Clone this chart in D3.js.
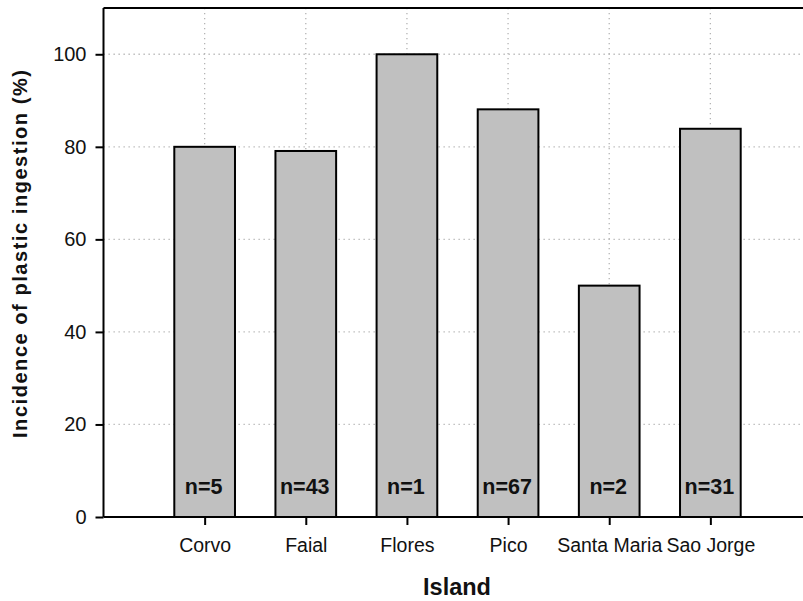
<!DOCTYPE html>
<html>
<head>
<meta charset="utf-8">
<script src="https://cdn.jsdelivr.net/npm/d3@7"></script>
<style>
  html, body { margin: 0; padding: 0; background: #fff; }
  svg { display: block; }
  text { font-family: "Liberation Sans", Arial, sans-serif; }
</style>
</head>
<body>
<svg id="chart" width="803" height="601"></svg>
<script>
const islands = ["Corvo", "Faial", "Flores", "Pico", "Santa Maria", "Sao Jorge"];
const incidence = [80, 79.1, 100, 88.1, 50, 83.9];
const sampleSizes = ["n=5", "n=43", "n=1", "n=67", "n=2", "n=31"];
const yTicks = [0, 20, 40, 60, 80, 100];
const yTitle = "Incidence of plastic ingestion (%)";
const xTitle = "Island";

(function () {
const svg = d3.select("#chart");
const mLeft = 103.5, mRight = 811.5, mTop = 8, mBottom = 517;

const x = d3.scaleLinear().domain([0, islands.length + 1]).range([mLeft, mRight]);
const y = d3.scaleLinear().domain([0, 110]).range([mBottom, mTop]);
const barW = x(0.6) - x(0);

// grid
const grid = svg.append("g").attr("stroke", "#b4b4b4").attr("stroke-width", 1.3)
  .attr("stroke-dasharray", "1.3,3.7");
grid.selectAll("line.h").data(yTicks.filter(d => d > 0)).join("line")
  .attr("class", "h")
  .attr("x1", mLeft).attr("x2", mRight)
  .attr("y1", d => y(d)).attr("y2", d => y(d));
grid.selectAll("line.v").data(islands).join("line")
  .attr("class", "v")
  .attr("x1", (d, i) => x(i + 1)).attr("x2", (d, i) => x(i + 1))
  .attr("y1", y(110)).attr("y2", y(0));

// bars
svg.append("g").selectAll("rect").data(islands).join("rect")
  .attr("x", (d, i) => x(i + 1) - barW / 2)
  .attr("width", barW)
  .attr("y", (d, i) => y(incidence[i]))
  .attr("height", (d, i) => y(0) - y(incidence[i]))
  .attr("fill", "#c0c0c0")
  .attr("stroke", "#000")
  .attr("stroke-width", 2);

// n labels
svg.append("g").selectAll("text").data(sampleSizes).join("text")
  .attr("x", (d, i) => x(i + 1) - 1)
  .attr("y", y(5))
  .attr("text-anchor", "middle")
  .attr("font-size", 21.5)
  .attr("font-weight", "bold")
  .attr("fill", "#111")
  .text(d => d);

// frame top
svg.append("line").attr("x1", mLeft).attr("x2", mRight)
  .attr("y1", y(110)).attr("y2", y(110))
  .attr("stroke", "#000").attr("stroke-width", 2);

// y axis
const yAxis = svg.append("g").attr("transform", `translate(${mLeft},0)`)
  .call(d3.axisLeft(y).tickValues(yTicks).tickSize(8).tickSizeOuter(0).tickPadding(9));
yAxis.select(".domain").attr("stroke-width", 2).attr("d", `M0,${y(0)}V${y(110)}`);
yAxis.selectAll(".tick line").attr("stroke-width", 2);
yAxis.selectAll(".tick text").attr("font-size", 20).attr("fill", "#111")
  .attr("font-family", "Liberation Sans, Arial, sans-serif");

// x axis
const xAxis = svg.append("g").attr("transform", `translate(0,${mBottom})`)
  .call(d3.axisBottom(x).tickValues(d3.range(1, islands.length + 1))
    .tickFormat(d => islands[d - 1]).tickSize(8).tickSizeOuter(0).tickPadding(21));
xAxis.select(".domain").attr("stroke-width", 2).attr("d", `M${mLeft},0H${mRight}`);
xAxis.selectAll(".tick line").attr("stroke-width", 2);
xAxis.selectAll(".tick text").attr("font-size", 19.5).attr("fill", "#111")
  .attr("font-family", "Liberation Sans, Arial, sans-serif")
  .attr("dy", null).attr("y", 35);

// axis titles
svg.append("text")
  .attr("transform", `translate(27,${(70 + 438) / 2}) rotate(-90)`)
  .attr("text-anchor", "middle")
  .attr("font-size", 20)
  .attr("font-weight", "bold")
  .attr("textLength", 368)
  .attr("lengthAdjust", "spacing")
  .attr("fill", "#111")
  .text(yTitle);

svg.append("text")
  .attr("x", 457)
  .attr("y", 595)
  .attr("text-anchor", "middle")
  .attr("font-size", 23.5)
  .attr("font-weight", "bold")
  .attr("fill", "#111")
  .text(xTitle);
})();
</script>
</body>
</html>
